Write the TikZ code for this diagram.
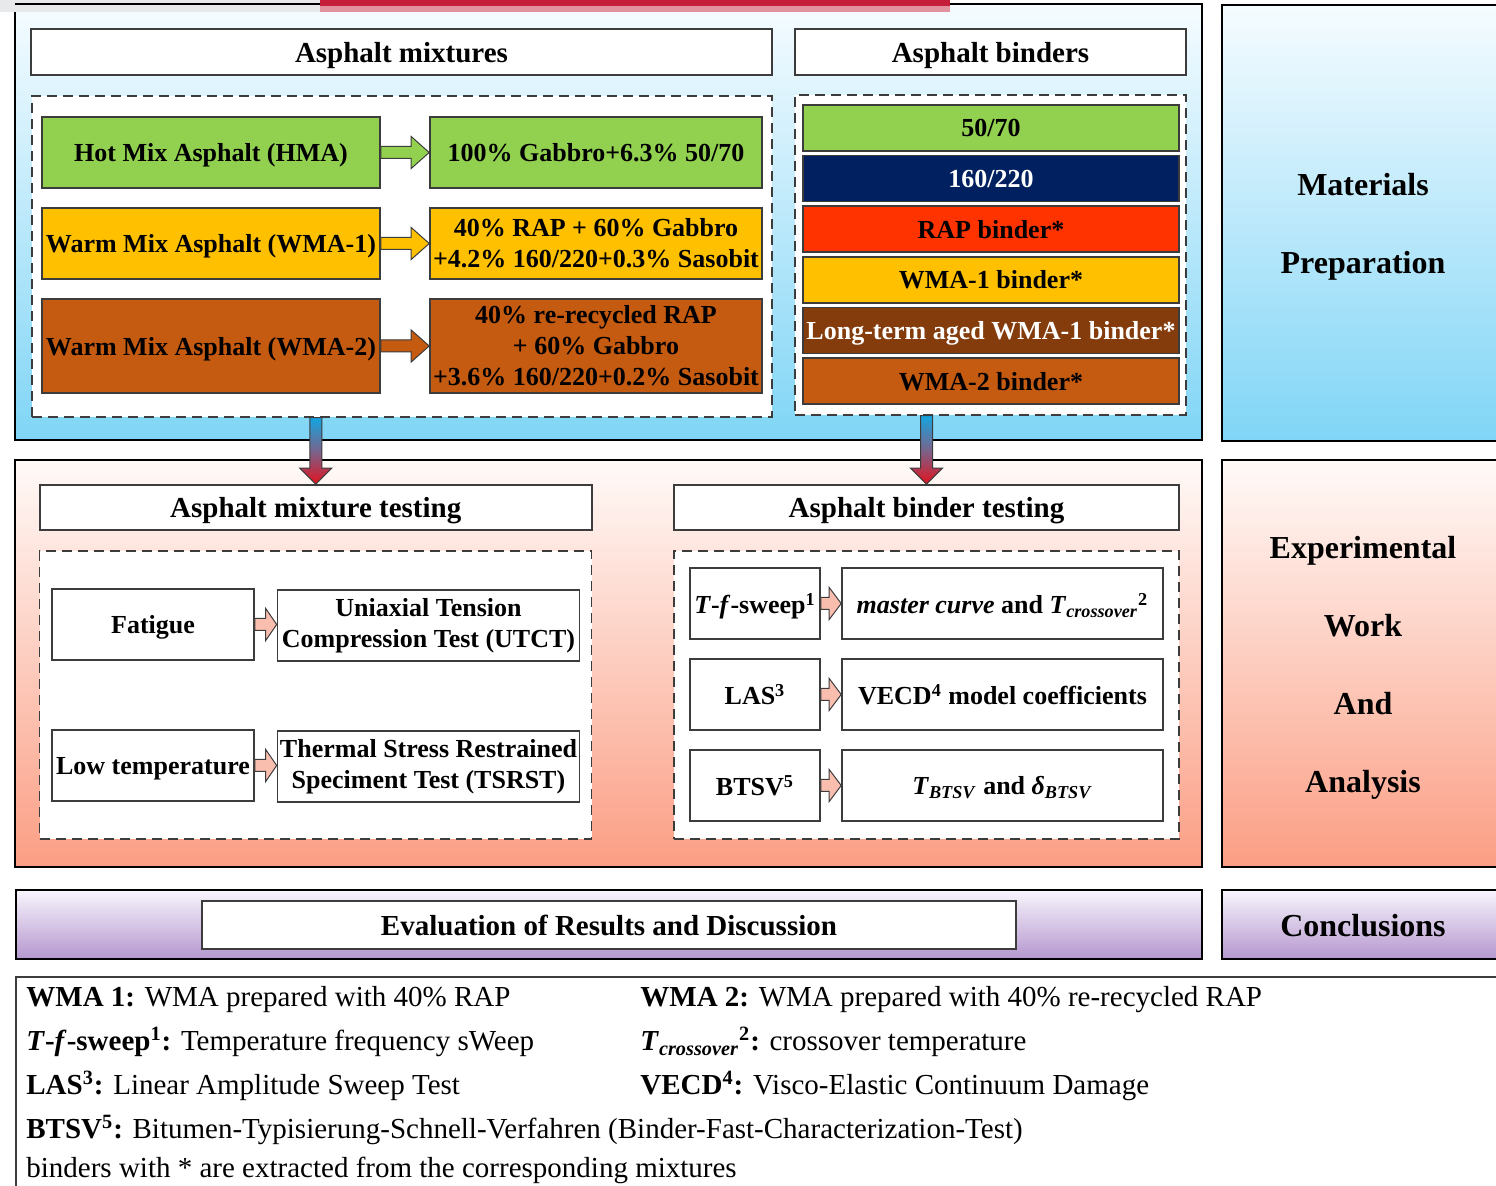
\documentclass[tikz,border=0pt]{standalone}
\usepackage{fontspec}
\setmainfont{Liberation Serif}
\usetikzlibrary{calc}
\definecolor{hmagreen}{RGB}{146,208,80}
\definecolor{wmaone}{RGB}{255,192,0}
\definecolor{wmatwo}{RGB}{197,90,17}
\definecolor{navybinder}{RGB}{0,32,96}
\definecolor{rapred}{RGB}{255,51,0}
\definecolor{agedbrown}{RGB}{132,60,12}
\definecolor{skytop}{RGB}{246,252,255}
\definecolor{skybot}{RGB}{128,213,246}
\definecolor{salmtop}{RGB}{255,250,248}
\definecolor{salmbot}{RGB}{251,158,132}
\definecolor{liltop}{RGB}{248,245,252}
\definecolor{lilbot}{RGB}{180,151,207}
\definecolor{arrblue}{RGB}{20,165,225}
\definecolor{arrmid}{RGB}{120,100,140}
\definecolor{arrred}{RGB}{228,18,30}
\definecolor{arrpink}{RGB}{250,190,175}
\definecolor{framegray}{RGB}{60,60,60}
\definecolor{stripred}{RGB}{196,30,58}
\definecolor{strippink}{RGB}{226,145,158}
\definecolor{stripgray}{RGB}{232,233,235}

\tikzset{
  panel/.style={draw=black, line width=0.6pt},
  cellbox/.style={draw=framegray, line width=0.8pt, inner sep=0pt, align=center,
    font=\bfseries\fontsize{13}{15.5}\selectfont},
  onecell/.style={cellbox, text depth=0pt},
  titlebox/.style={onecell, fill=white, font=\bfseries\fontsize{14.5}{17}\selectfont},
  dashbox/.style={draw=framegray, line width=0.6pt, dash pattern=on 5pt off 3pt,
    fill=white, inner sep=0pt},
  sidelabel/.style={anchor=base, font=\bfseries\fontsize{16}{19}\selectfont},
  legendtext/.style={anchor=base west, inner sep=0pt, font=\fontsize{14.5}{17}\selectfont},
  flatarrow/.style={draw=framegray, line width=0.5pt}
}

% block arrow from the east side of #1 to the west side of #2, head length #3
\newcommand{\blockarrow}[4]{%
  \draw[#4] let \p1=(#1.east), \p2=(#2.west) in
    (\x1,\y1+3pt) -- (\x2-#3,\y1+3pt) -- (\x2-#3,\y1+8pt) -- (\x2,\y1)
    -- (\x2-#3,\y1-8pt) -- (\x2-#3,\y1-3pt) -- (\x1,\y1-3pt) -- cycle;}
% shaded arrow down from the bottom of #1 to the top of #2
\newcommand{\shadearrow}[2]{%
  \shadedraw[flatarrow, top color=arrblue, bottom color=arrred, middle color=arrmid]
    let \p1=(#2.north |- #1.south), \p2=(#2.north) in
    (\x1-3pt,\y1) -- (\x1-3pt,\y2+8pt) -- (\x1-8pt,\y2+8pt) -- (\x2,\y2)
    -- (\x1+8pt,\y2+8pt) -- (\x1+3pt,\y2+8pt) -- (\x1+3pt,\y1) -- cycle;}

\begin{document}
\begin{tikzpicture}[x=0.5pt,y=-0.5pt]
  % one unit = one pixel of the 1496 x 1186 figure, y runs down
  \useasboundingbox (0,0) rectangle (1496,1186);
  \clip (0,0) rectangle (1496,1186);
  % stage panels
  \shadedraw[panel, top color=skytop, bottom color=skybot] (15,4) rectangle (1202,440);
  \shadedraw[panel, top color=skytop, bottom color=skybot] (1222,5) rectangle (1504,441);
  \shadedraw[panel, top color=salmtop, bottom color=salmbot] (15,460) rectangle (1202,867);
  \shadedraw[panel, top color=salmtop, bottom color=salmbot] (1222,460) rectangle (1504,867);
  \shadedraw[panel, top color=liltop, bottom color=lilbot] (16,890) rectangle (1202,959);
  \shadedraw[panel, top color=liltop, bottom color=lilbot] (1222,890) rectangle (1504,959);
  % strip left over from the page above
  \fill[stripgray] (0,0) rectangle (320,12);
  \draw[black, line width=0.6pt] (15,4) -- (320,4);
  \fill[stripred] (320,0) rectangle (950,6);
  \fill[strippink] (320,6) rectangle (950,12);

  % materials preparation
  \node[titlebox, minimum width=370.5pt, minimum height=23pt] (mixhead) at (401.5,52) {Asphalt mixtures};
  \node[titlebox, minimum width=195.5pt, minimum height=23pt] (bindhead) at (990.5,52) {Asphalt binders};
  \node[dashbox, minimum width=370pt, minimum height=160.5pt] (mixdash) at (402,256.5) {};
  \node[dashbox, minimum width=195.5pt, minimum height=160pt] (binddash) at (990.5,255) {};

  \node[onecell, fill=hmagreen, minimum width=169pt, minimum height=35.5pt] (hma) at (211,152.5) {Hot Mix Asphalt (HMA)};
  \node[onecell, fill=hmagreen, minimum width=166pt, minimum height=35.5pt] (hmamix) at (596,152.5) {100\% Gabbro+6.3\% 50/70};
  \node[onecell, fill=wmaone, minimum width=169pt, minimum height=35.5pt] (wmaa) at (211,243.5) {Warm Mix Asphalt (WMA-1)};
  \node[cellbox, fill=wmaone, minimum width=166pt, minimum height=35.5pt] (wmaamix) at (596,243.5) {40\% RAP + 60\% Gabbro\\+4.2\% 160/220+0.3\% Sasobit};
  \node[onecell, fill=wmatwo, minimum width=169pt, minimum height=47pt] (wmab) at (211,346) {Warm Mix Asphalt (WMA-2)};
  \node[cellbox, fill=wmatwo, minimum width=166pt, minimum height=47pt] (wmabmix) at (596,346) {40\% re-recycled RAP\\+ 60\% Gabbro\\+3.6\% 160/220+0.2\% Sasobit};
  \blockarrow{hma}{hmamix}{9pt}{flatarrow, fill=hmagreen}
  \blockarrow{wmaa}{wmaamix}{9pt}{flatarrow, fill=wmaone}
  \blockarrow{wmab}{wmabmix}{9pt}{flatarrow, fill=wmatwo}

  \foreach \n/\yy/\c/\t/\lab in {b1/128/hmagreen/black/{50/70},
      b2/178.6/navybinder/white/{160/220}, b3/229.2/rapred/black/{RAP binder*},
      b4/279.8/wmaone/black/{WMA-1 binder*}, b5/330.4/agedbrown/white/{Long-term aged WMA-1 binder*},
      b6/381/wmatwo/black/{WMA-2 binder*}}
    \node[onecell, fill=\c, text=\t, minimum width=188pt, minimum height=23pt] (\n) at (991,\yy) {\lab};

  \node[sidelabel] (matl) at (1363,196) {Materials};
  \node[sidelabel] (prep) at (1363,274) {Preparation};

  % experimental work
  \node[titlebox, minimum width=276pt, minimum height=22.5pt] (mixtest) at (315.75,507.5) {Asphalt mixture testing};
  \node[titlebox, minimum width=252.5pt, minimum height=22.5pt] (bindtest) at (926.5,507.5) {Asphalt binder testing};
  \node[dashbox, minimum width=276pt, minimum height=144pt] (mixtestdash) at (315.75,695) {};
  \node[dashbox, minimum width=252.5pt, minimum height=144pt] (bindtestdash) at (926.5,695) {};
  \shadearrow{mixdash}{mixtest}
  \shadearrow{binddash}{bindtest}

  \node[onecell, fill=white, minimum width=101pt, minimum height=35.5pt] (fatigue) at (153,624.5) {Fatigue};
  \node[cellbox, fill=white, minimum width=151pt, minimum height=35.5pt] (utct) at (428.5,625.5) {Uniaxial Tension\\Compression Test (UTCT)};
  \node[onecell, fill=white, minimum width=101pt, minimum height=35.5pt] (lowtemp) at (153,765.5) {Low temperature};
  \node[cellbox, fill=white, minimum width=151pt, minimum height=35.5pt] (tsrst) at (428.5,766.5) {Thermal Stress Restrained\\Speciment Test (TSRST)};
  \blockarrow{fatigue}{utct}{5.5pt}{flatarrow, fill=arrpink}
  \blockarrow{lowtemp}{tsrst}{5.5pt}{flatarrow, fill=arrpink}

  \node[onecell, fill=white, minimum width=65pt, minimum height=35.5pt] (tfs) at (755,603.5) {\textit{T}-\textit{f}-sweep\textsuperscript{1}};
  \node[onecell, fill=white, minimum width=160.5pt, minimum height=35.5pt] (master) at (1002.5,603.5) {\textit{master curve} and \textit{T}\textsubscript{\textit{crossover}}\textsuperscript{2}};
  \node[onecell, fill=white, minimum width=65pt, minimum height=35.5pt] (las) at (755,694.5) {LAS\textsuperscript{3}};
  \node[onecell, fill=white, minimum width=160.5pt, minimum height=35.5pt] (vecd) at (1002.5,694.5) {VECD\textsuperscript{4} model coefficients};
  \node[onecell, fill=white, minimum width=65pt, minimum height=35.5pt] (btsv) at (755,785.5) {BTSV\textsuperscript{5}};
  \node[onecell, fill=white, minimum width=160.5pt, minimum height=35.5pt] (btsvres) at (1002.5,785.5) {\textit{T}\textsubscript{\textit{BTSV}} and \textit{δ}\textsubscript{\textit{BTSV}}};
  \blockarrow{tfs}{master}{6pt}{flatarrow, fill=arrpink}
  \blockarrow{las}{vecd}{6pt}{flatarrow, fill=arrpink}
  \blockarrow{btsv}{btsvres}{6pt}{flatarrow, fill=arrpink}

  \foreach \w [count=\i] in {Experimental,Work,And,Analysis}
    \node[sidelabel] (exp\i) at (1363,{559+78*(\i-1)}) {\w};

  % results
  \node[titlebox, minimum width=407pt, minimum height=24pt] (eval) at (609,925) {Evaluation of Results and Discussion};
  \node[sidelabel] (concl) at (1363,937) {Conclusions};

  % abbreviations
  \draw[panel, draw=framegray] (16,977) rectangle (1520,1200);
  \node[legendtext] (abba) at (26,1007) {\textbf{WMA 1:} WMA prepared with 40\% RAP};
  \node[legendtext] (abbb) at (640,1007) {\textbf{WMA 2:} WMA prepared with 40\% re-recycled RAP};
  \node[legendtext] (abbc) at (26,1051) {\textbf{\textit{T}-\textit{f}-sweep\textsuperscript{1}:} Temperature frequency sWeep};
  \node[legendtext] (abbd) at (640,1051) {\textbf{\textit{T}\textsubscript{\textit{crossover}}\textsuperscript{2}:} crossover temperature};
  \node[legendtext] (abbe) at (26,1095) {\textbf{LAS\textsuperscript{3}:} Linear Amplitude Sweep Test};
  \node[legendtext] (abbf) at (640,1095) {\textbf{VECD\textsuperscript{4}:} Visco-Elastic Continuum Damage};
  \node[legendtext] (abbg) at (26,1139) {\textbf{BTSV\textsuperscript{5}:} Bitumen-Typisierung-Schnell-Verfahren (Binder-Fast-Characterization-Test)};
  \node[legendtext] (abbh) at (26,1178) {binders with * are extracted from the corresponding mixtures};
\end{tikzpicture}
\end{document}
